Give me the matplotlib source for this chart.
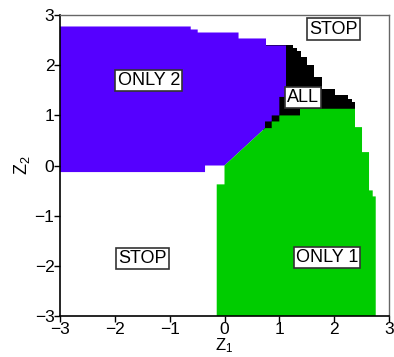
import matplotlib
matplotlib.use("Agg")
import matplotlib.pyplot as plt
from matplotlib.patches import Polygon

plt.rcParams['font.family'] = ['Liberation Sans', 'DejaVu Sans']

# Region boundaries (Z1, Z2)
only2_x = [-3, -0.616, -0.616, -0.489, -0.489, 0.256, 0.256, 0.757, 0.757, 1.122,
           1.122, 1.0, 1.0, 0.861, 0.861, 0.739, 0.739, 0.0, -0.355, -0.355, -3]
only2_y = [2.771, 2.771, 2.711, 2.711, 2.651, 2.651, 2.532, 2.532, 2.392, 2.392,
           1.367, 1.367, 0.998, 0.998, 0.878, 0.878, 0.745, 0.0, 0.0, -0.131, -0.131]

only1_x = [-0.142, -0.142, 0.0, 0.0, 0.739, 0.861, 0.861, 1.0, 1.0, 1.377, 1.377,
           2.38, 2.38, 2.508, 2.508, 2.636, 2.636, 2.703, 2.703, 2.758, 2.758]
only1_y = [-3, -0.376, -0.376, 0.0, 0.745, 0.745, 0.878, 0.878, 0.998, 0.998, 1.131,
           1.131, 0.765, 0.765, 0.267, 0.267, -0.496, -0.496, -0.616, -0.616, -3]

all_x = [0.7, 1.122, 1.122, 1.254, 1.254, 1.317, 1.317, 1.390, 1.390, 1.511, 1.511,
         1.633, 1.633, 1.773, 1.773, 2.016, 2.016, 2.258, 2.258, 2.320, 2.320, 2.38,
         2.38, 0.7]
all_y = [2.392, 2.392, 2.392, 2.392, 2.339, 2.339, 2.273, 2.273, 2.159, 2.159, 2.008,
         2.008, 1.761, 1.761, 1.530, 1.530, 1.396, 1.396, 1.331, 1.331, 1.263, 1.263,
         0.7, 0.7]

labels = ["ONLY 2", "ALL", "STOP", "STOP", "ONLY 1"]
label_x = [-1.38, 1.43, 1.99, -1.50, 1.87]
label_y = [1.70, 1.36, 2.72, -1.85, -1.83]

ticks = [-3, -2, -1, 0, 1, 2, 3]

fig = plt.figure(figsize=(3.94, 3.57), dpi=100)
ax = fig.add_axes([0.1523, 0.1148, 0.835, 0.8432])

ax.add_patch(Polygon(list(zip(all_x, all_y)), closed=True, facecolor='black', edgecolor='none'))
ax.add_patch(Polygon(list(zip(only2_x, only2_y)), closed=True, facecolor='#5500ff', edgecolor='none'))
ax.add_patch(Polygon(list(zip(only1_x, only1_y)), closed=True, facecolor='#00cc00', edgecolor='none'))

for t, x, y in zip(labels, label_x, label_y):
    ax.text(x, y, t, ha='center', va='center', fontsize=13,
            bbox=dict(boxstyle='square,pad=0.12', facecolor='white', edgecolor='#333333', linewidth=1.2))

ax.set_xlim(-3, 3)
ax.set_ylim(-3, 3)
ax.set_xticks(ticks)
ax.set_yticks(ticks)
ax.tick_params(direction='out', length=4, width=1, labelsize=12.5, pad=0)
for s in ['left', 'bottom']:
    ax.spines[s].set_color('black')
    ax.spines[s].set_linewidth(1.2)
for s in ['top', 'right']:
    ax.spines[s].set_color('#666666')
    ax.spines[s].set_linewidth(1.0)

ax.set_xlabel(r'$\mathregular{Z_1}$', fontsize=12, labelpad=0)
ax.set_ylabel(r'$\mathregular{Z_2}$', fontsize=13, labelpad=2)

fig.savefig('out.png', dpi=100)
